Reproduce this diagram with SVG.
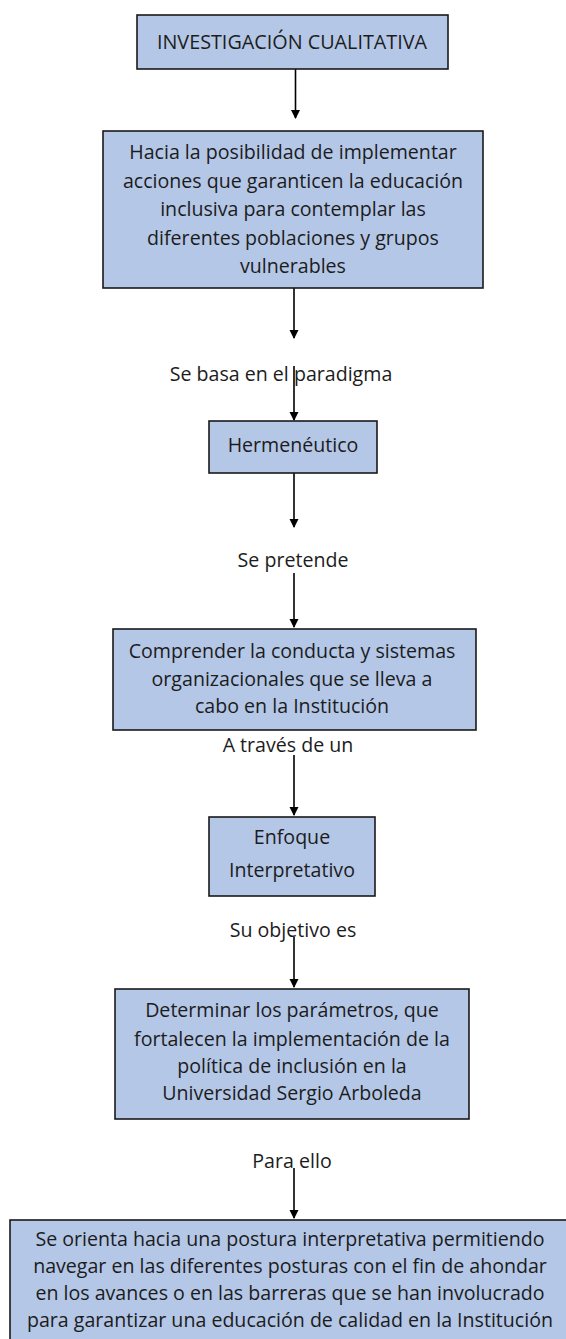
<svg xmlns="http://www.w3.org/2000/svg" width="566" height="1339" viewBox="0 0 566 1339">
<style>
.box{fill:#b4c7e7;stroke:#1a1a1a;stroke-width:1.6}
.t{font-family:"Open Sans","Liberation Sans",sans-serif;font-size:19.6px;fill:#1c1c1c;text-anchor:middle}
.c{stroke:#000;stroke-width:1.6;fill:none;marker-end:url(#ah)}
</style>
<defs>
<marker id="ah" markerWidth="10" markerHeight="10" refX="5" refY="9" markerUnits="userSpaceOnUse" viewBox="0 0 10 10" orient="0">
<path d="M0.5,1 L9.5,1 L5,10 Z" fill="#000"/>
</marker>
</defs>
<g id="connectors">
<line class="c" x1="295.5" y1="69" x2="295.5" y2="118"/>
<line class="c" x1="294" y1="288" x2="294" y2="338"/>
<line class="c" x1="294" y1="366" x2="294" y2="420"/>
<line class="c" x1="294" y1="473" x2="294" y2="527"/>
<line class="c" x1="294" y1="573" x2="294" y2="627"/>
<line class="c" x1="294" y1="755" x2="294" y2="815"/>
<line class="c" x1="294" y1="937" x2="294" y2="987"/>
<line class="c" x1="294" y1="1168" x2="294" y2="1218"/>
</g>
<g id="labels">
<text class="t" x="281" y="381">Se basa en el paradigma</text>
<text class="t" x="293" y="567">Se pretende</text>
<text class="t" x="288" y="752">A través de un</text>
<text class="t" x="293" y="937">Su objetivo es</text>
<text class="t" x="292" y="1168">Para ello</text>
</g>
<g id="n1">
<rect class="box" x="137" y="15" width="311" height="54"/>
<text class="t" x="292" y="48.5" style="font-size:19.8px">INVESTIGACIÓN CUALITATIVA</text>
</g>
<g id="n2">
<rect class="box" x="103" y="131" width="380" height="157"/>
<text class="t" x="293" y="159">Hacia la posibilidad de implementar</text>
<text class="t" x="293" y="187.5">acciones que garanticen la educación</text>
<text class="t" x="293" y="216">inclusiva para contemplar las</text>
<text class="t" x="293" y="244.5">diferentes poblaciones y grupos</text>
<text class="t" x="293" y="273">vulnerables</text>
</g>
<g id="n3">
<rect class="box" x="209" y="421" width="168" height="52"/>
<text class="t" x="293" y="452">Hermenéutico</text>
</g>
<g id="n4">
<rect class="box" x="113" y="629" width="363" height="101"/>
<text class="t" x="292" y="658">Comprender la conducta y sistemas</text>
<text class="t" x="292" y="685.5">organizacionales que se lleva a</text>
<text class="t" x="292" y="712.5">cabo en la Institución</text>
</g>
<g id="n5">
<rect class="box" x="209" y="817" width="166" height="79"/>
<text class="t" x="292" y="844">Enfoque</text>
<text class="t" x="292" y="877">Interpretativo</text>
</g>
<g id="n6">
<rect class="box" x="115" y="989" width="354" height="130"/>
<text class="t" x="292" y="1017">Determinar los parámetros, que</text>
<text class="t" x="292" y="1046">fortalecen la implementación de la</text>
<text class="t" x="292" y="1073">política de inclusión en la</text>
<text class="t" x="292" y="1100">Universidad Sergio Arboleda</text>
</g>
<g id="n7">
<rect class="box" x="10" y="1220" width="580" height="140"/>
<text class="t" x="290" y="1246">Se orienta hacia una postura interpretativa permitiendo</text>
<text class="t" x="290" y="1273">navegar en las diferentes posturas con el fin de ahondar</text>
<text class="t" x="290" y="1300">en los avances o en las barreras que se han involucrado</text>
<text class="t" x="290" y="1327">para garantizar una educación de calidad en la Institución</text>
</g>
</svg>
